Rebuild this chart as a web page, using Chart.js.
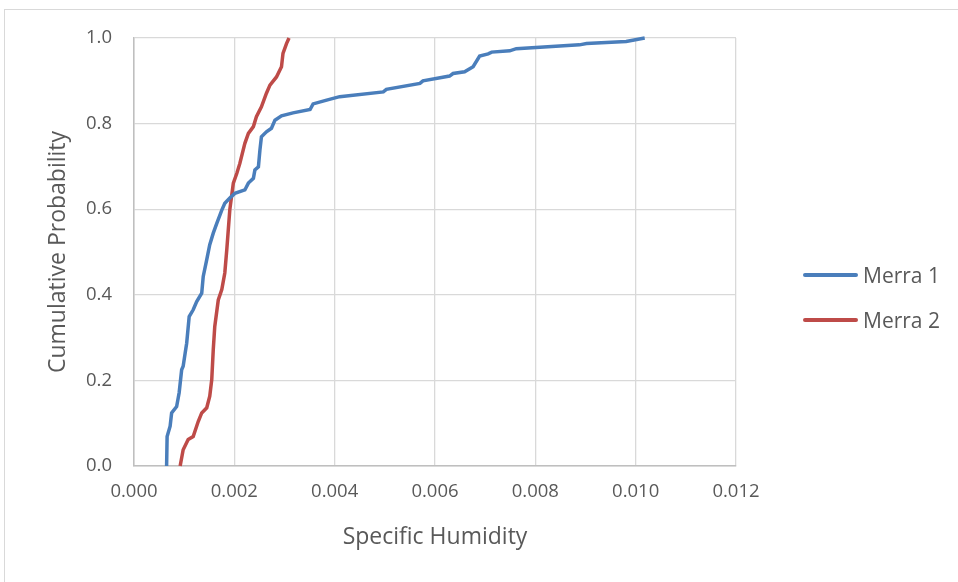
<!DOCTYPE html>
<html>
<head>
<meta charset="utf-8">
<script src="https://cdn.jsdelivr.net/npm/chart.js@4/dist/chart.umd.min.js"></script>
<style>
  html, body { margin: 0; padding: 0; background: #fff; }
  #wrap { position: relative; width: 958px; height: 582px; overflow: hidden; }
  #frame { position: absolute; left: 4px; top: 9px; width: 1000px; height: 1000px;
           border-left: 1px solid #d9d9d9; border-top: 1px solid #d9d9d9; }
  #cdfChart { position: absolute; left: 0; top: 0; }
  #legend { position: absolute; left: 803px; top: 252px; font-family: "Open Sans", sans-serif;
            font-size: 21px; color: #595959; }
  #legend .item { display: flex; align-items: center; height: 45px; }
  #legend .swatch { width: 55px; height: 4px; border-radius: 2px; margin-right: 5px; }
</style>
</head>
<body>
<div id="wrap">
  <div id="frame"></div>
  <canvas id="cdfChart" width="958" height="582"></canvas>
  <div id="legend"></div>
</div>
<script>
// Empirical CDFs of specific humidity for the two reanalyses
const seriesNames = ['Merra 1', 'Merra 2'];
const seriesColors = ['#4a7ebb', '#be4b48'];

const merra1X = [0.00065, 0.00066, 0.00072, 0.00075, 0.00085, 0.0009, 0.00095, 0.00098, 0.00102, 0.00105,
  0.0011, 0.00118, 0.00125, 0.00135, 0.00138, 0.00145, 0.00151, 0.00158, 0.00165, 0.00175,
  0.00181, 0.00191, 0.00201, 0.00221, 0.00228, 0.00238, 0.00241, 0.00248, 0.00251, 0.00254,
  0.00264, 0.00274, 0.00281, 0.00294, 0.00317, 0.00351, 0.00357, 0.00384, 0.0041, 0.00497,
  0.00503, 0.0057, 0.00576, 0.00629, 0.00636, 0.00659, 0.00676, 0.00689, 0.00706, 0.00713,
  0.00749, 0.00762, 0.00888, 0.00902, 0.00981, 0.01018];
const merra1Y = [0, 0.069, 0.093, 0.124, 0.139, 0.171, 0.225, 0.233, 0.264, 0.287,
  0.349, 0.365, 0.384, 0.404, 0.443, 0.482, 0.517, 0.544, 0.567, 0.598,
  0.614, 0.626, 0.637, 0.645, 0.661, 0.672, 0.692, 0.699, 0.738, 0.769,
  0.781, 0.789, 0.808, 0.818, 0.825, 0.833, 0.846, 0.855, 0.863, 0.874,
  0.88, 0.894, 0.9, 0.911, 0.917, 0.921, 0.933, 0.958, 0.963, 0.967,
  0.97, 0.975, 0.984, 0.987, 0.992, 1.0];

const merra2X = [0.00092, 0.00098, 0.00108, 0.00118, 0.00128, 0.00135, 0.00145, 0.00151, 0.00155, 0.00158,
  0.00161, 0.00168, 0.00175, 0.00181, 0.00185, 0.00191, 0.00198, 0.00205, 0.00211, 0.00221,
  0.00228, 0.00238, 0.00244, 0.00254, 0.00264, 0.00271, 0.00284, 0.00294, 0.00297, 0.00304, 0.00309];
const merra2Y = [0, 0.038, 0.062, 0.069, 0.104, 0.124, 0.136, 0.163, 0.202, 0.272,
  0.326, 0.388, 0.412, 0.451, 0.506, 0.599, 0.661, 0.684, 0.707, 0.754,
  0.777, 0.793, 0.816, 0.839, 0.871, 0.89, 0.909, 0.933, 0.964, 0.987, 1.0];

const xTickLabels = ['0.000', '0.002', '0.004', '0.006', '0.008', '0.010', '0.012'];
const yTickLabels = ['0.0', '0.2', '0.4', '0.6', '0.8', '1.0'];

function toPoints(xs, ys) {
  return xs.map((x, i) => ({ x: x, y: ys[i] }));
}

const textColor = '#595959';
const fontFamily = '"Open Sans", sans-serif';

const datasets = [
  toPoints(merra1X, merra1Y),
  toPoints(merra2X, merra2Y)
].map((pts, i) => ({
  label: seriesNames[i],
  data: pts,
  borderColor: seriesColors[i],
  backgroundColor: seriesColors[i],
  borderWidth: 3.5,
  pointRadius: 0,
  tension: 0,
  showLine: true,
  clip: false
}));

const ctx = document.getElementById('cdfChart').getContext('2d');
const cdfChart = new Chart(ctx, {
  type: 'scatter',
  data: { datasets: datasets },
  options: {
    responsive: false,
    animation: false,
    layout: { padding: { left: 0, right: 222, top: 38, bottom: 0 } },
    plugins: {
      legend: { display: false },
      tooltip: { enabled: false }
    },
    scales: {
      x: {
        type: 'linear',
        min: 0,
        max: 0.012,
        afterBuildTicks: s => { s.ticks = xTickLabels.map(t => ({ value: parseFloat(t) })); },
        afterFit: s => { s.height = 116; },
        ticks: {
          padding: 15,
          color: textColor,
          font: { family: fontFamily, size: 18.5 },
          callback: (v, i) => xTickLabels[i]
        },
        grid: { color: '#d9d9d9', lineWidth: 1.3, drawTicks: false },
        border: { color: '#bfbfbf', width: 1.5 },
        title: {
          display: true,
          text: 'Specific Humidity',
          color: textColor,
          font: { family: fontFamily, size: 23 },
          padding: { top: 0, bottom: 31 }
        }
      },
      y: {
        type: 'linear',
        min: 0,
        max: 1,
        afterBuildTicks: s => { s.ticks = yTickLabels.map(t => ({ value: parseFloat(t) })); },
        afterFit: s => { s.width = 134; },
        ticks: {
          padding: 22,
          color: textColor,
          font: { family: fontFamily, size: 18.5 },
          callback: (v, i) => yTickLabels[i]
        },
        grid: { color: '#d9d9d9', lineWidth: 1.3, drawTicks: false },
        border: { color: '#bfbfbf', width: 1.5 },
        title: {
          display: true,
          text: 'Cumulative Probability',
          color: textColor,
          font: { family: fontFamily, size: 23 },
          padding: { top: 45, bottom: 0 }
        }
      }
    }
  }
});

// Legend to the right of the plot
const legendEl = document.getElementById('legend');
seriesNames.forEach((name, i) => {
  const item = document.createElement('div');
  item.className = 'item';
  item.innerHTML = '<div class="swatch" style="background:' + seriesColors[i] + '"></div><span>' + name + '</span>';
  legendEl.appendChild(item);
});
</script>
</body>
</html>
